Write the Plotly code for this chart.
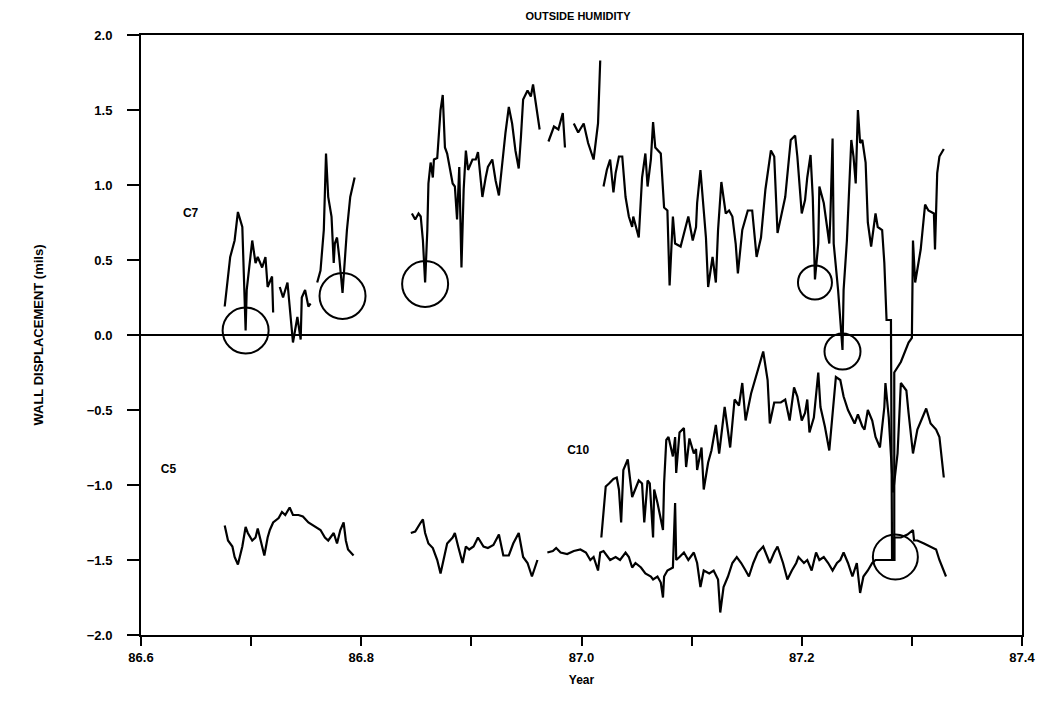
import plotly.graph_objects as go

# ---------------- data ----------------
c7_year = [86.676, 86.681, 86.685, 86.688, 86.692, 86.695, 86.696, 86.701, 86.704, 86.706, 86.710, 86.713, 86.715, 86.719, 86.720, None,
           86.726, 86.729, 86.733, 86.735, 86.738, 86.742, 86.745, 86.746, 86.749, 86.752, 86.754, None,
           86.760, 86.763, 86.766, 86.768, 86.770, 86.773, 86.775, 86.776, 86.778, 86.780, 86.783, 86.785, 86.787, 86.790, 86.794, None,
           86.846, 86.849, 86.852, 86.854, 86.856, 86.858, 86.860, 86.861, 86.863, 86.865, 86.866, 86.869, 86.872, 86.874, 86.876,
           86.878, 86.883, 86.885, 86.887, 86.889, 86.891, 86.893, 86.895, 86.897, 86.901, 86.904, 86.906, 86.910, 86.913, 86.915,
           86.919, 86.922, 86.925, 86.928, 86.931, 86.934, 86.937, 86.940, 86.943, 86.945, 86.947, 86.951, 86.954, 86.956, 86.960,
           86.962, None,
           86.970, 86.975, 86.979, 86.983, 86.985, None,
           86.993, 86.997, 87.002, 87.006, 87.011, 87.015, 87.017, None,
           87.020, 87.023, 87.026, 87.029, 87.031, 87.034, 87.037, 87.040, 87.043, 87.046, 87.047, 87.052, 87.055, 87.058, 87.060,
           87.063, 87.065, 87.067, 87.072, 87.075, 87.078, 87.080, 87.083, 87.085, 87.090, 87.095, 87.097, 87.101, 87.104, 87.105,
           87.108, 87.111, 87.113, 87.115, 87.119, 87.122, 87.124, 87.127, 87.131, 87.134, 87.137, 87.140, 87.142, 87.146, 87.151,
           87.155, 87.159, 87.163, 87.167, 87.172, 87.175, 87.178, 87.181, 87.185, 87.190, 87.194, 87.196, 87.200, 87.203, 87.205,
           87.208, 87.210, 87.212, 87.215, 87.216, 87.220, 87.223, 87.225, 87.226, 87.228, 87.229, 87.233, 87.237, 87.238, 87.241,
           87.243, 87.245, 87.247, 87.249, 87.251, 87.253, 87.255, 87.258, 87.260, 87.263, 87.265, 87.267, 87.269, 87.273, 87.275,
           87.277, 87.281, 87.282, 87.284, 87.284, 87.290, 87.297, 87.300, 87.301, 87.303, 87.305, 87.308, 87.312, 87.315, 87.320,
           87.321, 87.323, 87.325, 87.329]
c7_val = [0.19, 0.52, 0.63, 0.82, 0.72, 0.03, 0.30, 0.63, 0.48, 0.52, 0.45, 0.52, 0.32, 0.39, 0.15, None,
          0.32, 0.25, 0.35, 0.17, -0.05, 0.12, -0.03, 0.25, 0.30, 0.19, 0.21, None,
          0.35, 0.43, 0.70, 1.21, 0.92, 0.79, 0.48, 0.61, 0.65, 0.52, 0.28, 0.52, 0.70, 0.92, 1.05, None,
          0.81, 0.77, 0.81, 0.79, 0.63, 0.35, 0.70, 1.01, 1.15, 1.05, 1.17, 1.18, 1.50, 1.60, 1.25,
          1.21, 1.01, 0.99, 0.77, 1.12, 0.45, 0.97, 1.23, 1.10, 1.17, 1.17, 1.22, 0.92, 1.05, 1.12,
          1.17, 1.03, 0.93, 1.15, 1.35, 1.52, 1.41, 1.23, 1.11, 1.32, 1.57, 1.63, 1.59, 1.67, 1.48,
          1.37, None,
          1.29, 1.39, 1.37, 1.48, 1.25, None,
          1.41, 1.35, 1.41, 1.28, 1.17, 1.41, 1.83, None,
          0.99, 1.10, 1.17, 0.95, 1.08, 1.19, 1.19, 0.92, 0.79, 0.72, 0.79, 0.65, 1.05, 1.21, 0.99,
          1.17, 1.42, 1.25, 1.21, 0.85, 0.83, 0.33, 0.79, 0.61, 0.59, 0.72, 0.79, 0.63, 0.72, 0.88,
          1.10, 0.83, 0.65, 0.32, 0.52, 0.35, 0.70, 1.02, 0.81, 0.83, 0.79, 0.61, 0.41, 0.70, 0.83,
          0.83, 0.52, 0.65, 0.97, 1.23, 1.19, 0.68, 0.79, 0.92, 1.30, 1.33, 1.19, 0.81, 0.90, 1.05,
          1.20, 0.92, 0.37, 0.61, 0.99, 0.88, 0.72, 0.61, 0.79, 1.31, 0.61, 0.30, -0.10, 0.30, 0.63,
          0.92, 1.30, 1.19, 1.01, 1.50, 1.28, 1.30, 1.15, 0.75, 0.59, 0.70, 0.81, 0.72, 0.70, 0.48,
          0.10, 0.10, -1.50, -1.50, -0.25, -0.18, -0.05, -0.02, 0.63, 0.35, 0.43, 0.57, 0.87, 0.83, 0.81,
          0.57, 1.08, 1.19, 1.24]

c10_year = [87.018, 87.020, 87.022, 87.025, 87.029, 87.032, 87.034, 87.036, 87.038, 87.042, 87.044, 87.046, 87.052, 87.055,
            87.057, 87.060, 87.062, 87.065, 87.066, 87.069, 87.074, 87.075, 87.077, 87.079, 87.083, 87.085, 87.086, 87.089,
            87.093, 87.095, 87.098, 87.102, 87.104, 87.105, 87.109, 87.111, 87.115, 87.118, 87.122, 87.125, 87.130, 87.133,
            87.135, 87.139, 87.143, 87.146, 87.149, 87.154, 87.160, 87.165, 87.169, 87.171, 87.175, 87.181, 87.185, 87.189,
            87.193, 87.196, 87.200, 87.203, 87.205, 87.207, 87.211, 87.215, 87.217, 87.221, 87.225, 87.228, 87.231, 87.235,
            87.238, 87.242, 87.245, 87.248, 87.251, 87.255, 87.257, 87.260, 87.264, 87.267, 87.271, 87.275, 87.276, 87.279,
            87.283, 87.287, 87.290, 87.295, 87.297, 87.301, 87.305, 87.313, 87.317, 87.322, 87.325, 87.329]
c10_val = [-1.35, -1.17, -1.01, -0.99, -0.96, -0.95, -1.03, -1.25, -0.90, -0.83, -0.95, -1.08, -0.97, -0.99,
           -1.25, -0.97, -0.99, -1.35, -1.03, -1.12, -1.30, -0.99, -0.70, -0.68, -0.81, -0.68, -0.92, -0.65,
           -0.62, -0.88, -0.69, -0.79, -0.76, -0.90, -0.75, -1.03, -0.85, -0.77, -0.60, -0.79, -0.48, -0.63,
           -0.75, -0.43, -0.47, -0.32, -0.57, -0.39, -0.23, -0.11, -0.30, -0.59, -0.45, -0.45, -0.43, -0.57,
           -0.35, -0.41, -0.57, -0.52, -0.43, -0.65, -0.55, -0.25, -0.48, -0.61, -0.77, -0.50, -0.28, -0.30,
           -0.41, -0.50, -0.55, -0.59, -0.53, -0.61, -0.63, -0.50, -0.57, -0.68, -0.75, -0.48, -0.32, -0.55,
           -1.05, -0.79, -0.32, -0.37, -0.52, -0.79, -0.63, -0.49, -0.59, -0.63, -0.68, -0.95]

c5_year = [86.676, 86.679, 86.683, 86.685, 86.688, 86.692, 86.695, 86.697, 86.701, 86.704, 86.706, 86.710, 86.712, 86.715,
           86.717, 86.720, 86.725, 86.728, 86.731, 86.735, 86.738, 86.743, 86.747, 86.752, 86.758, 86.763, 86.767, 86.770,
           86.775, 86.778, 86.781, 86.784, 86.786, 86.788, 86.793, None,
           86.845, 86.849, 86.854, 86.856, 86.858, 86.861, 86.865, 86.869, 86.872, 86.875, 86.878, 86.883, 86.885, 86.888,
           86.892, 86.895, 86.898, 86.902, 86.906, 86.911, 86.915, 86.920, 86.925, 86.929, 86.934, 86.938, 86.943, 86.947,
           86.951, 86.955, 86.960, None,
           86.969, 86.974, 86.977, 86.981, 86.987, 86.993, 86.999, 87.004, 87.008, 87.011, 87.015, 87.017, 87.020, 87.024,
           87.026, 87.031, 87.035, 87.040, 87.043, 87.046, 87.049, 87.054, 87.058, 87.063, 87.065, 87.069, 87.072, 87.074,
           87.075, 87.078, 87.083, 87.085, 87.086, 87.089, 87.093, 87.097, 87.102, 87.105, 87.108, 87.111, 87.116, 87.120,
           87.124, 87.126, 87.129, 87.133, 87.137, 87.141, 87.145, 87.149, 87.152, 87.156, 87.160, 87.165, 87.167, 87.171,
           87.175, 87.178, 87.183, 87.187, 87.191, 87.195, 87.197, 87.202, 87.205, 87.209, 87.213, 87.216, 87.220, 87.224,
           87.228, 87.232, 87.235, 87.238, 87.242, 87.246, 87.250, 87.253, 87.256, 87.260, 87.264, 87.267, 87.281, 87.284,
           87.284, 87.290, 87.296, 87.301, 87.302, 87.305, 87.311, 87.317, 87.322, 87.325, 87.331]
c5_val = [-1.27, -1.37, -1.41, -1.48, -1.53, -1.41, -1.28, -1.32, -1.37, -1.35, -1.29, -1.41, -1.47, -1.35,
          -1.30, -1.25, -1.22, -1.18, -1.20, -1.15, -1.20, -1.20, -1.21, -1.25, -1.28, -1.30, -1.35, -1.37,
          -1.32, -1.39, -1.30, -1.25, -1.37, -1.43, -1.47, None,
          -1.32, -1.31, -1.25, -1.23, -1.32, -1.39, -1.42, -1.50, -1.59, -1.50, -1.39, -1.35, -1.32, -1.41,
          -1.52, -1.41, -1.43, -1.41, -1.35, -1.41, -1.42, -1.40, -1.33, -1.47, -1.47, -1.39, -1.32, -1.48,
          -1.52, -1.61, -1.50, None,
          -1.45, -1.44, -1.42, -1.45, -1.46, -1.44, -1.43, -1.45, -1.50, -1.48, -1.57, -1.45, -1.44, -1.48,
          -1.50, -1.48, -1.50, -1.45, -1.48, -1.55, -1.52, -1.55, -1.59, -1.61, -1.63, -1.61, -1.65, -1.75,
          -1.61, -1.57, -1.55, -1.12, -1.50, -1.48, -1.45, -1.50, -1.45, -1.52, -1.68, -1.57, -1.59, -1.57,
          -1.63, -1.85, -1.68, -1.61, -1.52, -1.48, -1.52, -1.57, -1.61, -1.52, -1.45, -1.41, -1.45, -1.52,
          -1.45, -1.41, -1.52, -1.63, -1.57, -1.52, -1.48, -1.52, -1.50, -1.57, -1.45, -1.50, -1.48, -1.52,
          -1.57, -1.52, -1.50, -1.45, -1.52, -1.61, -1.52, -1.72, -1.61, -1.57, -1.52, -1.50, -1.50, -1.50,
          -1.35, -1.35, -1.33, -1.30, -1.37, -1.37, -1.39, -1.41, -1.43, -1.50, -1.61]

# circled events (year, displacement, marker diameter in px)
circle_year = [86.695, 86.783, 86.858, 87.212, 87.237, 87.285]
circle_val = [0.03, 0.26, 0.34, 0.35, -0.11, -1.48]
circle_size = [46, 46, 46, 34, 36, 45]

series_labels = ["C7", "C5", "C10"]
label_year = [86.645, 86.625, 86.997]
label_val = [0.81, -0.90, -0.77]

x_ticks = [86.6, 86.8, 87.0, 87.2, 87.4]
x_ticktext = ["86.6", "86.8", "87.0", "87.2", "87.4"]
y_ticks = [2.0, 1.5, 1.0, 0.5, 0.0, -0.5, -1.0, -1.5, -2.0]
y_ticktext = ["2.0", "1.5", "1.0", "0.5", "0.0", "\u22120.5", "\u22121.0", "\u22121.5", "\u22122.0"]

# ---------------- figure ----------------
FONT = "Liberation Sans"
line_style = dict(color="black", width=2.2)

fig = go.Figure()
fig.add_trace(go.Scatter(x=c7_year, y=c7_val, mode="lines", line=line_style, name="C7"))
fig.add_trace(go.Scatter(x=c10_year, y=c10_val, mode="lines", line=line_style, name="C10"))
fig.add_trace(go.Scatter(x=c5_year, y=c5_val, mode="lines", line=line_style, name="C5"))
fig.add_trace(go.Scatter(x=circle_year, y=circle_val, mode="markers",
                         marker=dict(symbol="circle-open", size=circle_size, color="black", opacity=1,
                                     line=dict(color="black", width=2)),
                         name="events"))
fig.add_trace(go.Scatter(x=label_year, y=label_val, mode="text", text=series_labels,
                         textfont=dict(family=FONT, size=12, color="black", weight="bold"),
                         textposition="middle center", name="labels"))

# zero line
fig.add_hline(y=0, line=dict(color="black", width=2), layer="below")

fig.update_layout(
    width=1044, height=711,
    margin=dict(l=133, r=30, t=27, b=84, autoexpand=False),
    paper_bgcolor="white", plot_bgcolor="white",
    showlegend=False,
    title=dict(text="OUTSIDE HUMIDITY", x=0.546, xanchor="center", y=0.989, yanchor="middle",
               font=dict(family=FONT, size=11, color="black", weight="bold")),
)
fig.update_xaxes(
    range=[86.6, 87.4], tickmode="array", tickvals=x_ticks, ticktext=x_ticktext,
    ticks="outside", ticklen=9, tickwidth=2, tickcolor="black",
    minor=dict(dtick=0.1, ticks="outside", ticklen=9, tickwidth=2, tickcolor="black", tick0=86.6),
    showline=True, linecolor="black", linewidth=2, mirror=True,
    showgrid=False, zeroline=False, automargin=False,
    tickfont=dict(family=FONT, size=13, color="black", weight="bold"),
    title=dict(text="Year", font=dict(family=FONT, size=12, color="black", weight="bold"), standoff=12),
)
fig.update_yaxes(
    range=[-2.0, 2.0], tickmode="array", tickvals=y_ticks, ticktext=y_ticktext,
    ticks="outside", ticklen=12, tickwidth=2, tickcolor="black", ticklabelstandoff=12,
    showline=True, linecolor="black", linewidth=2, mirror=True,
    showgrid=False, zeroline=False, automargin=False,
    tickfont=dict(family=FONT, size=13, color="black", weight="bold"),
    title=dict(text="WALL DISPLACEMENT (mils)", font=dict(family=FONT, size=13, color="black", weight="bold"),
               standoff=40),
)

fig.write_html("out.html")
